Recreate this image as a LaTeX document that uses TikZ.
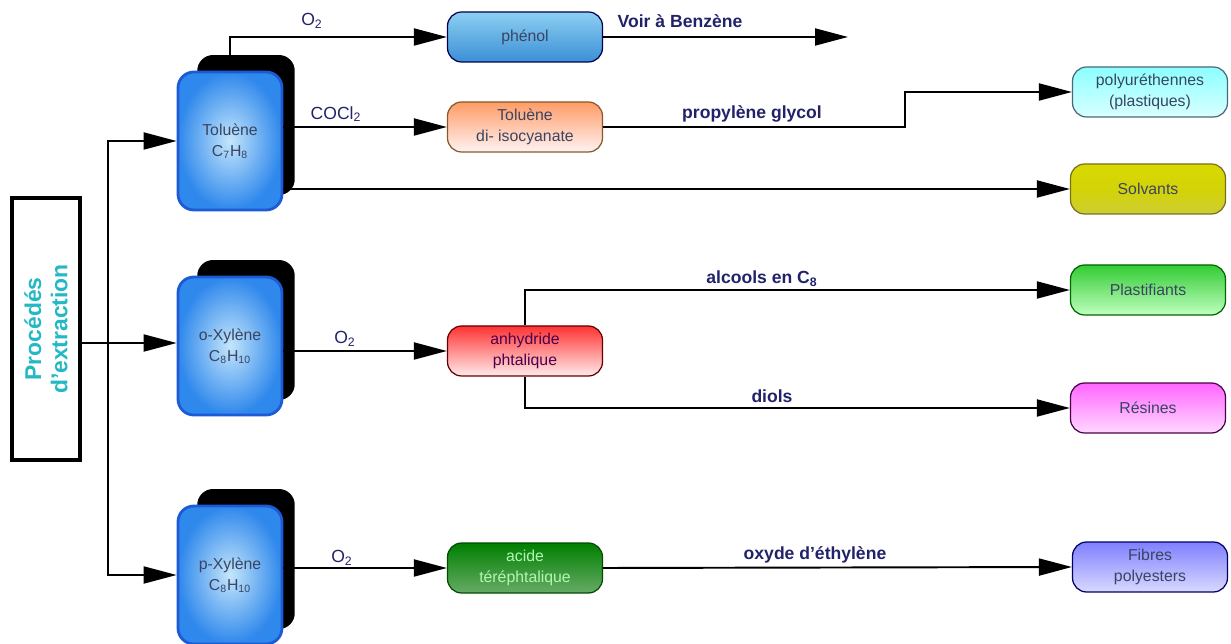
\documentclass[tikz,border=0pt]{standalone}
\usepackage{fontspec}
\setmainfont{Liberation Sans}
\usepackage{xcolor}
\usetikzlibrary{positioning}
\usetikzlibrary{arrows.meta}

\definecolor{srcblue}{HTML}{2F88EC}
\definecolor{srclight}{HTML}{C4E6FB}
\definecolor{srcedge}{HTML}{1C5AD6}
\definecolor{boxtext}{HTML}{3A4462}
\definecolor{lbltext}{HTML}{22226A}
\definecolor{extrtext}{HTML}{22B8C4}
\definecolor{phetop}{HTML}{8CCFF2}
\definecolor{phebot}{HTML}{3B8FD6}

\tikzset{
  srcbox/.style={draw=srcedge, line width=1.6pt, rounded corners=9pt,
    minimum width=2.08cm, minimum height=2.76cm, inner color=srclight,
    outer color=srcblue, align=center, text=boxtext,
    font=\fontsize{9}{12}\selectfont},
  shadowbox/.style={fill=black, rounded corners=9pt,
    minimum width=1.95cm, minimum height=2.8cm},
  prodbox/.style={rounded corners=8pt, line width=0.7pt,
    minimum width=3.1cm, minimum height=1.0cm, align=center, text=boxtext,
    font=\fontsize{9}{12}\selectfont},
  arr/.style={-{Triangle[length=0.66cm,width=0.34cm]}, line width=1.1pt},
  lbl/.style={text=lbltext, font=\fontsize{10}{12}\selectfont},
  blbl/.style={text=lbltext, font=\fontsize{10}{12}\selectfont\bfseries}
}

\begin{document}
\begin{tikzpicture}[x=0.02cm, y=-0.02cm]
\useasboundingbox (0,0) rectangle (1231,644);

% extraction box
\node[draw, line width=2.2pt, fill=white, minimum width=1.36cm, minimum height=5.24cm]
   (extr) at (46,329) {};
\node[rotate=90, align=center, text=extrtext, font=\fontsize{13}{15}\selectfont\bfseries]
   (extrtxt) at (extr) {Procédés\\d'extraction};

% feed stocks
\node[shadowbox] (tolsh) at (246,125) {};
\node[srcbox] (tol) at (230,141) {Toluène\\C\textsubscript{7}H\textsubscript{8}};
\node[shadowbox] (oxysh) at (246,330) {};
\node[srcbox] (oxy) at (230,346) {o-Xylène\\C\textsubscript{8}H\textsubscript{10}};
\node[shadowbox] (pxysh) at (246,559) {};
\node[srcbox] (pxy) at (230,575) {p-Xylène\\C\textsubscript{8}H\textsubscript{10}};

% intermediates
\node[prodbox, draw=blue!30!black, top color=phetop, bottom color=phebot] (phe) at (525,37) {phénol};
\node[prodbox, draw=brown!70!black, top color=orange!70!red!60, bottom color=red!5] (tdi) at (525,127) {Toluène\\di- isocyanate};
\node[prodbox, draw=red!40!black, top color=red!80, bottom color=red!8, text=violet!60!black] (anh) at (525,351) {anhydride\\phtalique};
\node[prodbox, draw=green!30!black, top color=green!50!black, bottom color=green!45!black!60, text=green!90!black!30] (aci) at (525,568) {acide\\téréphtalique};

% end products
\node[prodbox, draw=cyan!40!black, top color=cyan!45, bottom color=cyan!15] (poly) at (1150,92) {polyuréthennes\\(plastiques)};
\node[prodbox, draw=olive!80!black, top color=yellow!70!olive, bottom color=yellow!35!olive!60] (solv) at (1148,189) {Solvants};
\node[prodbox, draw=green!40!black, top color=green!75!black!80, bottom color=green!25] (plast) at (1148,290) {Plastifiants};
\node[prodbox, draw=violet!60!black, top color=magenta!60, bottom color=magenta!15] (res) at (1148,408) {Résines};
\node[prodbox, draw=blue!40!black, top color=blue!50!white, bottom color=blue!15] (fib) at (1150,567) {Fibres\\polyesters};

% free ends and bends
\coordinate (split) at (108,343);
\coordinate (bend) at (905,127);
\coordinate (benz) at (848,37);

% connectors
\draw[line width=1.1pt] (extr.east |- split) -- (split);
\draw[arr] (split) |- (tol.west);
\draw[arr] (split) -- (oxy.west |- split);
\draw[arr] (split) |- (pxy.west);

\draw[arr] (tol.center |- tolsh.north) |- (phe.west);
\draw[arr] (phe.east) -- (benz);
\draw[arr] (tol.east |- tdi) -- (tdi.west);
\draw[arr] (tdi.east) -- (bend) |- (poly.west);
\draw[arr] (tol.east |- solv) -- (solv.west);

\draw[arr] (oxy.east |- anh) -- (anh.west);
\draw[arr] (anh.north) |- (plast.west);
\draw[arr] (anh.south) |- (res.west);

\draw[arr] (pxy.east |- aci) -- (aci.west);
\draw[arr] (aci.east) -- (fib.west);

% labels
\node[lbl] (lo1) at (312,21) {O\textsubscript{2}};
\node[blbl] (lbenz) at (680,21) {Voir à Benzène};
\node[lbl] (lcocl) at (336,114) {COCl\textsubscript{2}};
\node[blbl] (lprop) at (752,114) {propylène glycol};
\node[lbl] (lo2) at (345,339) {O\textsubscript{2}};
\node[blbl] (lalc) at (762,279) {alcools en C\textsubscript{8}};
\node[blbl] (ldiol) at (772,396) {diols};
\node[lbl] (lo3) at (342,558) {O\textsubscript{2}};
\node[blbl] (loxy) at (815,555) {oxyde d'éthylène};
\end{tikzpicture}
\end{document}
